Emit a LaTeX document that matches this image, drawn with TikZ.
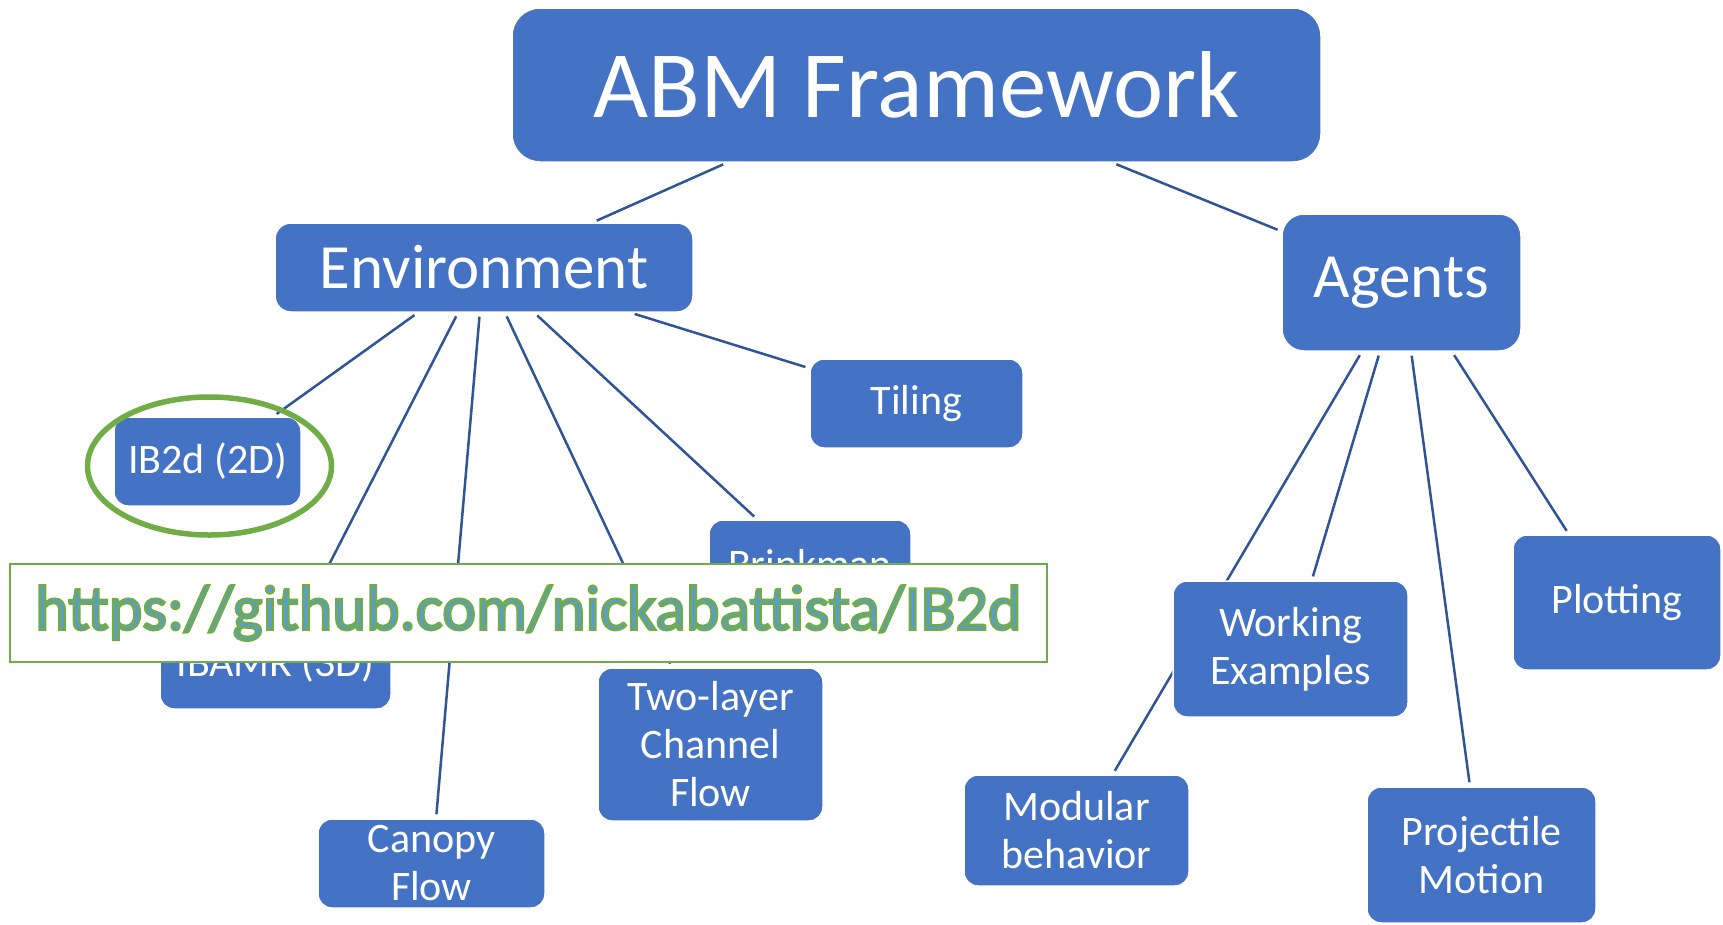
\documentclass[tikz,border=0pt]{standalone}
\usepackage{fontspec}
\setmainfont{Carlito}
\usetikzlibrary{calc}
\pgfdeclarelayer{bg}
\pgfsetlayers{bg,main}
\definecolor{boxblue}{RGB}{68,114,196}
\definecolor{linecol}{RGB}{47,85,151}
\definecolor{grn}{RGB}{112,173,71}
\definecolor{lblue}{RGB}{91,155,213}
\newcommand{\outlinedtext}[1]{{\color{lblue}\special{pdf:literal 2 Tr 2.4 w 0.439 0.678 0.278 RG}#1\special{pdf:literal 0 Tr}}}
\tikzset{
  box/.style={draw=white, line width=1.5pt, fill=boxblue, text=white, rounded corners=14pt,
    inner sep=0pt, align=center, font=\fontsize{42}{48}\selectfont},
  conn/.style={draw=linecol, line width=2.5pt, shorten <=4pt, shorten >=4pt},
}
\begin{document}
\begin{tikzpicture}[x=1pt,y=-1pt]
\useasboundingbox (0,0) rectangle (1723,924);
% nodes
\node[box, rounded corners=28pt, minimum width=809pt, minimum height=154pt, font=\fontsize{95}{100}\selectfont] (abm) at (916.5,85) {ABM Framework};
\node[box, rounded corners=16pt, minimum width=418pt, minimum height=89pt, font=\fontsize{63}{70}\selectfont] (env) at (484,267.5) {Environment};
\node[box, rounded corners=22pt, minimum width=239pt, minimum height=137pt, font=\fontsize{63}{70}\selectfont] (agents) at (1401.5,282.5) {Agents};
\node[box, minimum width=213pt, minimum height=89pt] (tiling) at (916.5,403.5) {Tiling};
\node[box, minimum width=187pt, minimum height=89pt] (ib2d) at (207.5,461.5) {IB2d (2D)};
\node[box, minimum width=202pt, minimum height=89pt] (brink) at (810,564.5) {Brinkman};
\node[box, minimum width=231pt, minimum height=89pt] (ibamr) at (275.5,664.5) {IBAMR (3D)};
\node[box, minimum width=225pt, minimum height=153pt] (two) at (710.5,744.5) {Two-layer\\Channel\\Flow};
\node[box, minimum width=227pt, minimum height=89pt] (canopy) at (431.5,863.5) {Canopy\\Flow};
\node[box, minimum width=235pt, minimum height=136pt] (we) at (1290.5,649) {Working\\Examples};
\node[box, minimum width=225pt, minimum height=111pt] (mod) at (1076.5,830.5) {Modular\\behavior};
\node[box, minimum width=229pt, minimum height=136pt] (proj) at (1481.5,855) {Projectile\\Motion};
\node[box, minimum width=208pt, minimum height=135pt] (plot) at (1617,602.5) {Plotting};
% connectors behind nodes
\begin{pgfonlayer}{bg}
\draw[conn] ($(abm.south west)!0.266!(abm.south east)$) -- ($(env.north west)!0.76!(env.north east)$);
\draw[conn] ($(abm.south west)!0.742!(abm.south east)$) -- ($(agents.north west)!0.13!(agents.south west)$);
\draw[conn] ($(env.south west)!0.342!(env.south east)$) -- ($(ib2d.north west)!0.85!(ib2d.north east)$);
\draw[conn] ($(env.south west)!0.438!(env.south east)$) -- ($(ibamr.north west)!0.61!(ibamr.north east)$);
\draw[conn] ($(env.south west)!0.49!(env.south east)$) -- ($(canopy.north west)!0.52!(canopy.north east)$);
\draw[conn] ($(env.south west)!0.55!(env.south east)$) -- ($(two.north west)!0.33!(two.north east)$);
\draw[conn] ($(env.south west)!0.62!(env.south east)$) -- ($(brink.north west)!0.24!(brink.north east)$);
\draw[conn] ($(env.south west)!0.85!(env.south east)$) -- ($(tiling.north west)!0.11!(tiling.south west)$);
\draw[conn] ($(agents.south west)!0.335!(agents.south east)$) -- ($(mod.north west)!0.66!(mod.north east)$);
\draw[conn] ($(agents.south west)!0.41!(agents.south east)$) -- ($(we.north west)!0.59!(we.north east)$);
\draw[conn] ($(agents.south west)!0.54!(agents.south east)$) -- ($(proj.north west)!0.45!(proj.north east)$);
\draw[conn] ($(agents.south west)!0.71!(agents.south east)$) -- ($(plot.north west)!0.27!(plot.north east)$);
\end{pgfonlayer}
% highlight ellipse
\draw[grn, line width=5.5pt] (209.5,466) ellipse [x radius=122pt, y radius=69pt];
% banner
\node[draw=grn, line width=2.5pt, fill=white, minimum width=1037pt, minimum height=98pt, inner sep=0pt,
  font=\fontsize{64}{70}\selectfont] (banner) at (528.5,613) {\outlinedtext{https://github.com/nickabattista/IB2d}};
\end{tikzpicture}
\end{document}
